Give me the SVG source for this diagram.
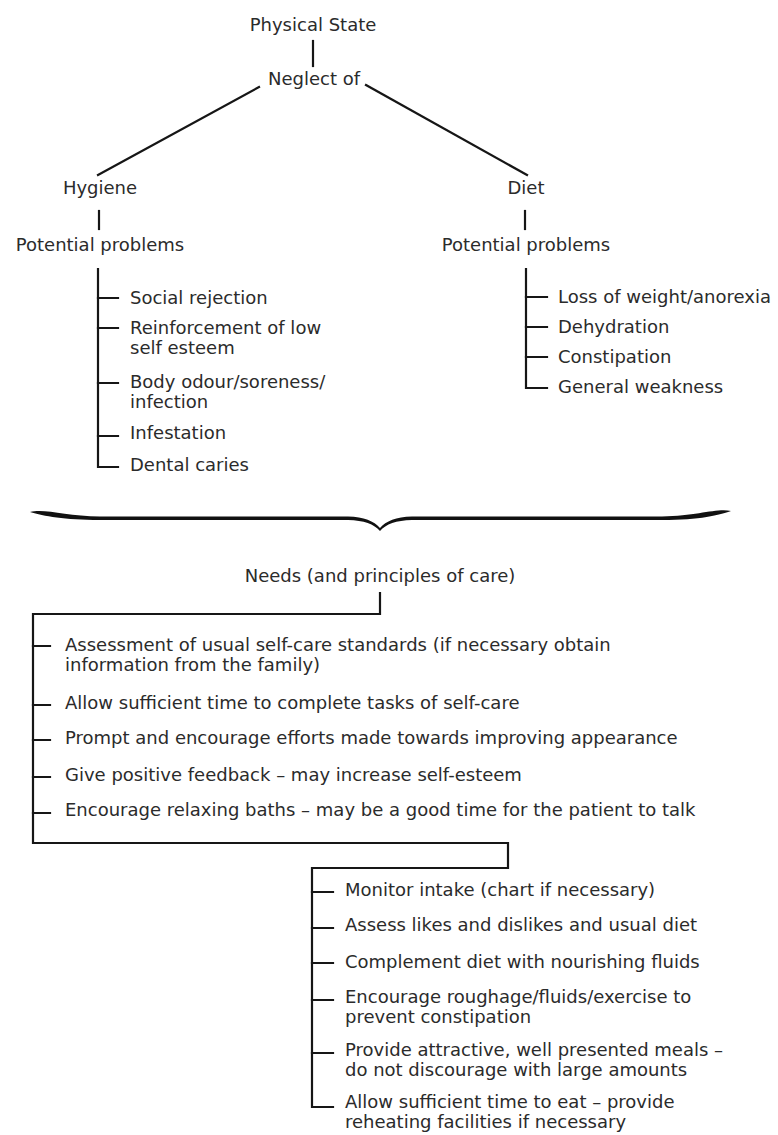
<svg xmlns="http://www.w3.org/2000/svg" width="778" height="1135" viewBox="0 0 778 1135">
  <style>
    text { font-family: "DejaVu Sans", "Liberation Sans", sans-serif; font-size: 18px; fill: #2b2b2b; }
    .c { text-anchor: middle; }
    .ln { stroke: #161616; stroke-width: 2.2; fill: none; stroke-linecap: square; }
  </style>
  <rect width="778" height="1135" fill="#ffffff"/>

  <!-- connectors -->
  <g id="connectors">
    <!-- top of tree -->
    <line class="ln" x1="313" y1="41" x2="313" y2="66"/>
    <line class="ln" x1="259" y1="87" x2="98" y2="175"/>
    <line class="ln" x1="366" y1="85" x2="527" y2="175"/>
    <line class="ln" x1="99" y1="211" x2="99" y2="229"/>
    <line class="ln" x1="525" y1="211" x2="525" y2="229"/>

    <!-- hygiene problem list -->
    <path class="ln" d="M98,269 V467 H118"/>
    <path class="ln" d="M98,298 H118 M98,328 H118 M98,383 H118 M98,436 H118"/>

    <!-- diet problem list -->
    <path class="ln" d="M526,269 V388 H547"/>
    <path class="ln" d="M526,297 H547 M526,327 H547 M526,357 H547"/>

    <!-- brace -->
    <path fill="#111" d="M30,512 C44,508 66,516 100,516.5 L348,516.5 C364,517 374,521 380,528 C386,521 396,517 412,516.5 L662,516.5 C698,516 716,508 731,511 C720,515 700,520 662,520 L412,520 C396,520.5 386,524 380,531 C374,524 364,520.5 348,520 L100,520 C64,520 44,516 30,512 Z"/>

    <!-- needs bracket -->
    <path class="ln" d="M380,593 V614 H33 V843 H508 V868 H312 V1107 H333"/>
    <path class="ln" d="M33,646 H50 M33,705 H50 M33,740 H50 M33,777 H50 M33,813 H50"/>
    <path class="ln" d="M312,892 H333 M312,928 H333 M312,963 H333 M312,1000 H333 M312,1053 H333"/>
  </g>

  <g id="physical-state"><text class="c" x="313" y="31">Physical State</text></g>
  <g id="neglect-of"><text class="c" x="314" y="85">Neglect of</text></g>

  <g id="hygiene"><text class="c" x="100" y="194">Hygiene</text></g>
  <g id="hygiene-problems"><text class="c" x="100" y="251">Potential problems</text></g>
  <g id="hygiene-list">
    <text x="130" y="304">Social rejection</text>
    <text x="130" y="334">Reinforcement of low</text>
    <text x="130" y="354">self esteem</text>
    <text x="130" y="388">Body odour/soreness/</text>
    <text x="130" y="408">infection</text>
    <text x="130" y="439">Infestation</text>
    <text x="130" y="471">Dental caries</text>
  </g>

  <g id="diet"><text class="c" x="526" y="194">Diet</text></g>
  <g id="diet-problems"><text class="c" x="526" y="251">Potential problems</text></g>
  <g id="diet-list">
    <text x="558" y="303">Loss of weight/anorexia</text>
    <text x="558" y="333">Dehydration</text>
    <text x="558" y="363">Constipation</text>
    <text x="558" y="393">General weakness</text>
  </g>

  <g id="needs"><text class="c" x="380" y="582">Needs (and principles of care)</text></g>

  <g id="hygiene-care">
    <text x="65" y="651">Assessment of usual self-care standards (if necessary obtain</text>
    <text x="65" y="671">information from the family)</text>
    <text x="65" y="709">Allow sufficient time to complete tasks of self-care</text>
    <text x="65" y="744">Prompt and encourage efforts made towards improving appearance</text>
    <text x="65" y="781">Give positive feedback – may increase self-esteem</text>
    <text x="65" y="816">Encourage relaxing baths – may be a good time for the patient to talk</text>
  </g>

  <g id="diet-care">
    <text x="345" y="896">Monitor intake (chart if necessary)</text>
    <text x="345" y="931">Assess likes and dislikes and usual diet</text>
    <text x="345" y="968">Complement diet with nourishing fluids</text>
    <text x="345" y="1003">Encourage roughage/fluids/exercise to</text>
    <text x="345" y="1023">prevent constipation</text>
    <text x="345" y="1056">Provide attractive, well presented meals –</text>
    <text x="345" y="1076">do not discourage with large amounts</text>
    <text x="345" y="1108">Allow sufficient time to eat – provide</text>
    <text x="345" y="1128">reheating facilities if necessary</text>
  </g>
</svg>
